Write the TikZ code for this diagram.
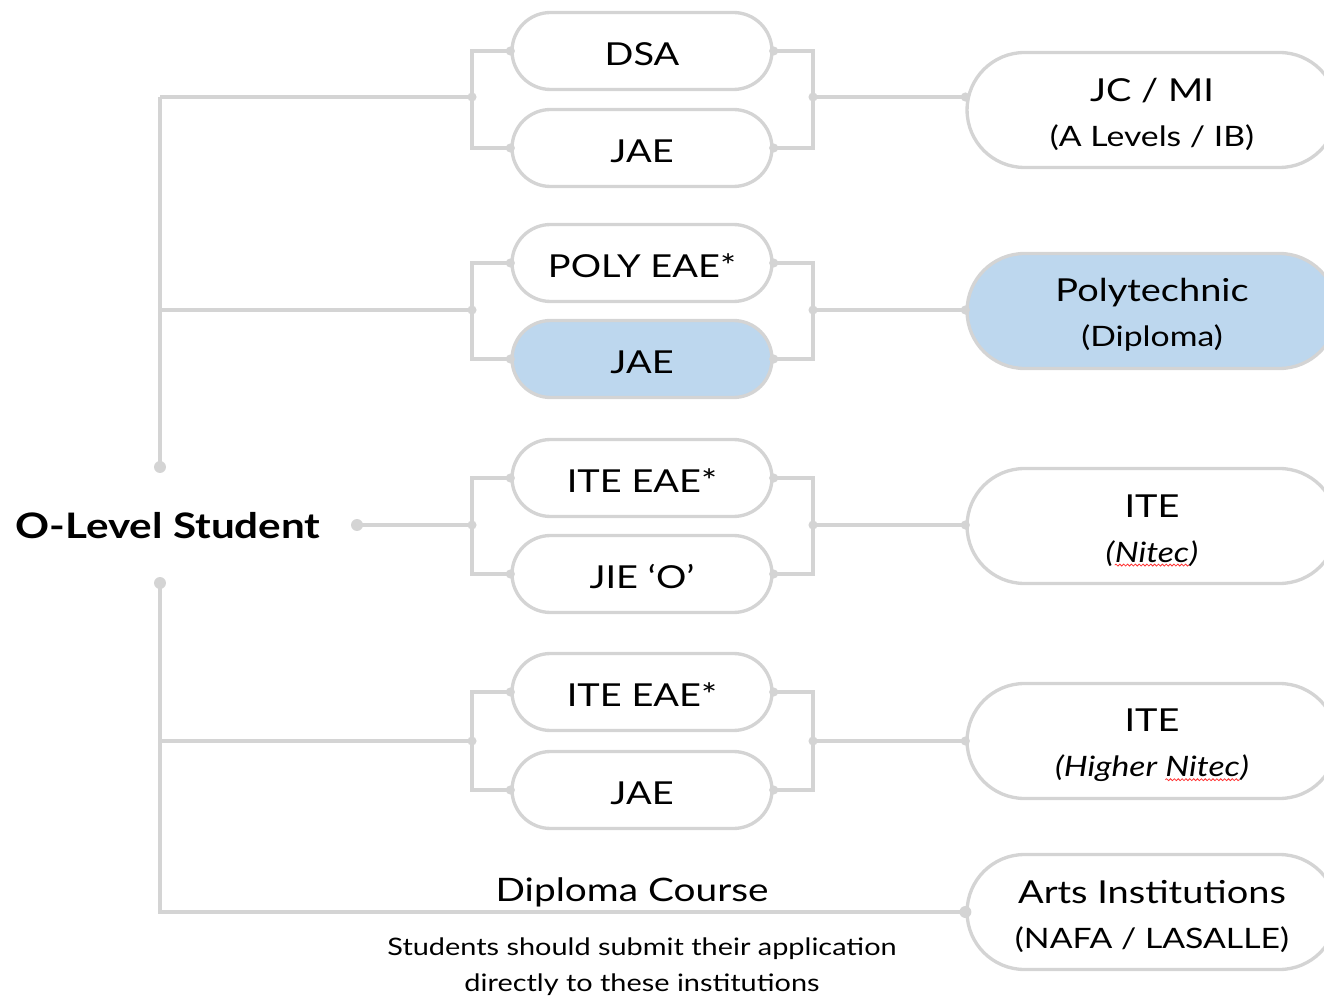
\documentclass[tikz,border=0pt]{standalone}
\usepackage{fontspec}
\setmainfont{Lato}[FakeStretch=1.2]
\usetikzlibrary{positioning, calc, shapes.misc, decorations.pathmorphing}

\definecolor{linegray}{RGB}{212,212,212}
\definecolor{pillblue}{RGB}{189,215,238}

% second line of a destination
\newcommand\sub[1]{{\fontsize{16}{25.5}\selectfont #1}}
% red spell-check wave under a word
\newcommand\spellwave[1]{\tikz[baseline=(w.base)]{\node[shape=rectangle, draw=none, fill=none,
    inner sep=0pt, outer sep=0pt, minimum size=0pt, text height=, text depth=, font={}] (w) {#1};
  \draw[red!80, line width=0.45pt, decorate, decoration={snake, amplitude=0.55pt, segment length=2.2pt}]
    ([yshift=-1.6pt]w.south west) -- ([yshift=-1.6pt]w.south east);}}

\begin{document}
\begin{tikzpicture}[x=0.02cm,y=-0.02cm,
  exam/.style={rounded rectangle, draw=linegray, line width=1.9pt, fill=white,
    minimum width=5.2cm, minimum height=1.54cm, inner sep=0pt,
    text height=16.4pt, text depth=0pt, font=\fontsize{18}{20}\selectfont},
  dest/.style={rounded rectangle, draw=linegray, line width=1.9pt, fill=white,
    minimum width=7.4cm, minimum height=2.3cm, inner sep=0pt, align=center,
    text height=43.5pt, font=\fontsize{18}{25.5}\selectfont},
  link/.style={draw=linegray, line width=2.2pt},
  jdot/.style={fill=linegray}]
\clip (0,0) rectangle (1324,999);

% exams, middle column
\node[exam] (dsa) at (642,51) {DSA};
\node[exam] (jaea) at (642,148) {JAE};
\node[exam] (polyeae) at (642,263) {POLY EAE*};
\node[exam,fill=pillblue] (jaeb) at (642,359) {JAE};
\node[exam] (iteeaea) at (642,478) {ITE EAE*};
\node[exam] (jie) at (642,574) {JIE `O'};
\node[exam] (iteeaeb) at (642,692) {ITE EAE*};
\node[exam] (jaec) at (642,790) {JAE};

% destinations, right column
\node[dest] (jc) at (1152,110) {JC / MI\\\sub{(A Levels / IB)}};
\node[dest,fill=pillblue] (poly) at (1152,311) {Polytechnic\\\sub{(Diploma)}};
\node[dest] (itea) at (1152,526) {ITE\\\sub{\itshape(\spellwave{Nitec})}};
\node[dest] (iteb) at (1152,741) {ITE\\\sub{\itshape(Higher \spellwave{Nitec})}};
\node[dest] (arts) at (1152,912) {Arts Institutions\\\sub{(NAFA / LASALLE)}};

% student
\node[font=\fontsize{20}{22}\selectfont\bfseries] (student) at (168,526) {O-Level Student};
\coordinate (stop) at (160,467);
\coordinate (sbot) at (160,583);
\coordinate (sright) at (357,525);

\node[font=\fontsize{18.4}{22}\selectfont] (diploma) at (632,892) {Diploma Course};
\node[font=\fontsize{13.7}{20.4}\selectfont, align=center] (note) at (642,967)
  {Students should submit their application\\directly to these institutions};

% brackets round each pair of exams
\foreach \a/\b/\d/\y in {dsa/jaea/jc/97, polyeae/jaeb/poly/310, iteeaea/jie/itea/525, iteeaeb/jaec/iteb/741} {
  \coordinate (L-\d) at (472,\y);
  \coordinate (R-\d) at (813,\y);
  \draw[link] (\a.west) -| (L-\d) |- (\b.west);
  \draw[link] (\a.east) -| (R-\d) |- (\b.east);
  \draw[link] (R-\d) -- (R-\d -| \d.west);
  \foreach \p in {L-\d, R-\d, \a.west, \b.west, \a.east, \b.east, R-\d -| \d.west}
    \fill[jdot] (\p) circle[radius=2.6pt];
}

% trunk
\draw[link] (L-jc -| stop) -- (stop);
\foreach \d in {jc, poly, iteb}
  \draw[link] (L-\d) -- (L-\d -| stop);
\draw[link] (sbot) |- (arts.west);
\draw[link] (sright) -- (L-itea);
\foreach \p in {stop, sbot, sright, arts.west}
  \fill[jdot] (\p) circle[radius=3.4pt];
\end{tikzpicture}
\end{document}
